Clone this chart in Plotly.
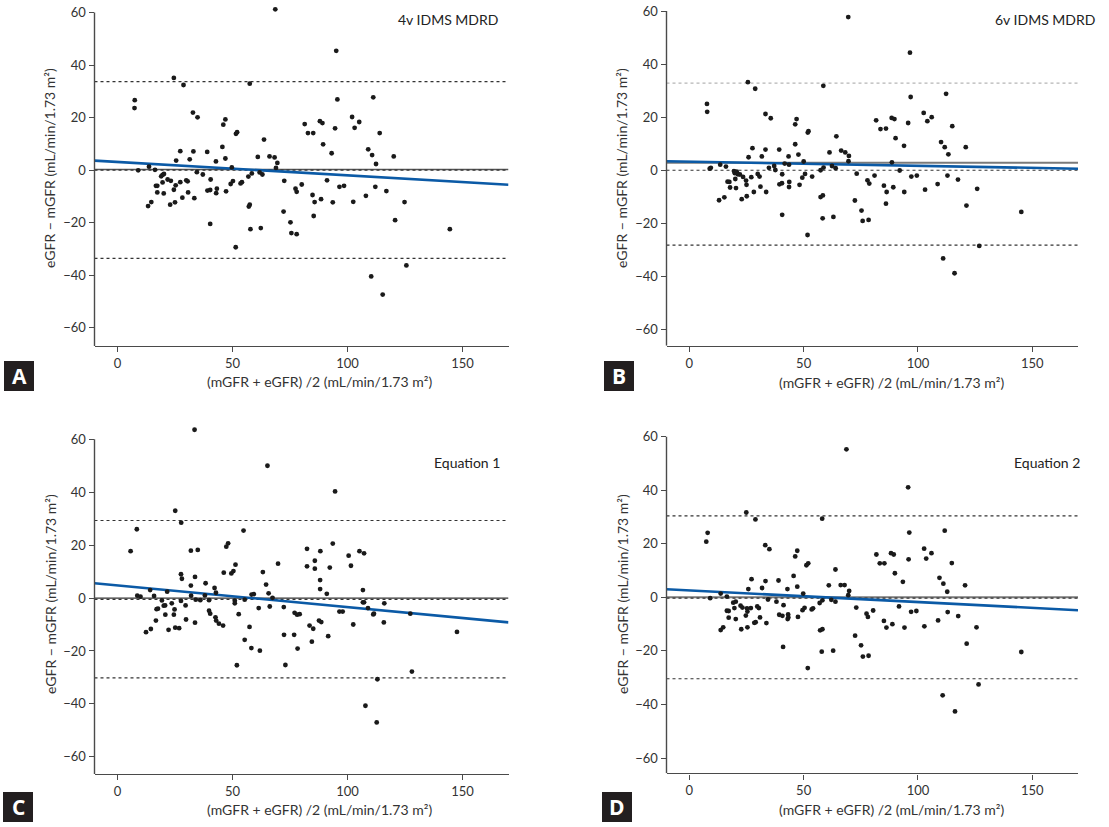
import plotly.graph_objects as go

W, H = 1109, 827

# ---------------- data (mean of mGFR & eGFR, eGFR - mGFR) ----------------
panel_a = [(68.6,61.2),(95.1,45.4),(24.5,35.1),(28.7,32.4),(57.5,32.9),(7.5,26.6),(7.4,23.6),(95.6,26.9),(111.2,27.7),(32.8,21.9),(34.8,20.1),(46.9,19.3),(46.0,17.3),(81.4,17.5),(88.0,18.6),(89.1,17.9),(102.0,20.2),(105.1,18.3),(94.6,15.9),(103.1,16.1),(51.5,13.8),(52.0,14.4),(63.7,11.6),(82.8,14.1),(85.1,14.1),(114.0,14.1),(45.6,8.8),(89.4,9.8),(93.1,6.4),(27.3,7.2),(33.0,7.1),(39.0,6.9),(109.0,7.9),(110.7,5.7),(120.1,5.2),(61.0,5.0),(66.1,5.2),(68.3,4.8),(46.9,4.4),(31.4,4.1),(25.5,3.6),(42.8,3.3),(69.5,2.7),(112.4,2.3),(68.9,0.8),(49.7,1.0),(13.7,1.3),(9.0,-0.1),(16.3,0.1),(34.5,-0.8),(37.1,-1.7),(40.5,-3.6),(58.4,-1.3),(61.8,-0.9),(63.0,-1.7),(56.9,-2.5),(19.6,-1.8),(20.2,-1.5),(19.0,-2.4),(21.8,-3.6),(23.2,-4.1),(19.6,-4.7),(29.9,-3.9),(30.5,-4.3),(27.3,-4.6),(50.2,-4.2),(54.1,-4.6),(53.5,-5.1),(49.2,-5.3),(16.7,-6.0),(17.3,-6.0),(25.3,-5.8),(72.5,-4.1),(91.1,-3.9),(80.1,-5.5),(96.5,-6.4),(98.5,-6.0),(112.1,-6.4),(77.4,-7.1),(77.9,-8.3),(24.5,-7.5),(39.1,-7.8),(40.3,-7.6),(43.2,-7.1),(42.9,-8.8),(47.2,-8.1),(17.3,-8.5),(20.1,-8.9),(30.7,-8.5),(116.9,-8.0),(108.0,-9.8),(84.8,-9.5),(28.2,-10.5),(33.4,-10.7),(88.5,-11.1),(14.7,-12.2),(13.3,-13.7),(25.0,-12.3),(22.9,-13.2),(85.7,-12.2),(93.6,-12.3),(102.5,-12.1),(124.8,-12.2),(57.5,-13.2),(57.1,-13.9),(72.2,-15.8),(85.3,-17.5),(120.7,-19.1),(75.2,-19.9),(40.3,-20.5),(62.3,-22.1),(57.8,-22.5),(144.5,-22.5),(75.6,-24.0),(77.9,-24.4),(51.4,-29.4),(125.6,-36.3),(110.3,-40.5),(115.3,-47.4)]

panel_b = [(69.5,57.7),(96.5,44.3),(25.6,33.2),(28.8,30.7),(58.6,31.8),(7.7,25.0),(7.8,22.0),(96.8,27.6),(112.3,28.8),(33.3,21.2),(35.6,19.6),(46.9,19.3),(46.3,17.3),(81.7,18.8),(88.5,19.7),(89.7,19.3),(95.7,17.8),(102.5,21.6),(104.1,18.5),(106.0,20.0),(83.6,15.5),(86.0,15.7),(115.0,16.6),(51.8,14.2),(52.1,14.7),(64.3,12.8),(90.2,12.1),(110.1,10.6),(46.3,9.8),(93.9,9.2),(111.7,8.7),(120.9,8.7),(113.3,6.0),(33.3,7.8),(39.3,7.8),(27.6,8.3),(25.9,4.9),(31.7,5.2),(61.3,6.7),(66.4,7.4),(68.2,6.7),(69.8,5.4),(69.6,3.4),(43.4,5.2),(47.7,5.9),(50.0,3.3),(88.6,3.0),(37.1,1.6),(34.8,0.9),(37.6,0.1),(43.6,2.1),(41.7,2.5),(62.4,1.6),(64.0,0.8),(58.7,1.0),(57.4,0.0),(9.4,0.9),(8.9,0.6),(13.5,2.1),(16.0,1.4),(92.0,-0.1),(99.5,-2.0),(97.1,-2.4),(112.9,-2.0),(81.0,-2.0),(73.2,-1.3),(19.5,-0.3),(19.9,-1.1),(20.7,-0.5),(21.2,-1.5),(20.1,-3.3),(22.1,-1.6),(23.5,-2.5),(29.9,-1.4),(30.7,-2.4),(27.1,-2.6),(24.8,-3.9),(25.0,-5.5),(16.7,-4.3),(17.5,-4.4),(17.8,-6.5),(20.4,-6.7),(31.1,-6.2),(33.6,-8.2),(28.2,-8.2),(25.1,-9.8),(22.9,-10.9),(15.3,-10.2),(13.0,-11.3),(40.6,-1.5),(40.5,-4.9),(39.4,-5.3),(43.7,-4.4),(43.6,-6.3),(50.6,-1.4),(49.4,-2.8),(48.2,-5.5),(53.7,-2.4),(85.1,-5.8),(86.3,-8.2),(89.2,-6.4),(77.9,-3.8),(78.7,-5.0),(108.6,-5.2),(103.1,-7.3),(117.5,-3.5),(94.0,-8.2),(125.9,-7.0),(57.4,-10.1),(58.4,-9.5),(86.0,-12.6),(72.4,-11.4),(121.2,-13.3),(75.3,-15.2),(75.8,-19.1),(78.4,-18.7),(145.2,-15.7),(40.6,-16.8),(58.3,-18.1),(63.0,-17.6),(51.7,-24.4),(126.8,-28.5),(111.0,-33.2),(116.0,-38.8)]

panel_c = [(33.5,63.6),(65.2,50.0),(94.6,40.3),(25.1,33.0),(27.7,28.5),(8.4,26.0),(5.7,17.7),(54.8,25.5),(31.9,17.9),(34.9,18.2),(48.1,20.7),(47.3,19.4),(82.4,18.6),(88.2,17.7),(93.6,20.6),(100.5,16.0),(105.2,17.7),(107.2,16.9),(82.4,12.0),(85.8,11.1),(85.8,14.1),(92.3,11.5),(101.5,12.2),(51.3,12.6),(50.4,10.2),(49.5,9.3),(46.2,9.6),(69.8,13.0),(63.2,9.8),(27.6,9.0),(28.0,7.3),(33.7,8.0),(38.3,5.6),(31.9,4.7),(42.2,3.8),(42.8,2.0),(14.2,3.0),(21.6,2.4),(8.6,0.9),(10.0,0.5),(15.9,0.8),(32.0,0.9),(38.0,1.0),(88.1,6.8),(88.1,3.4),(91.0,1.6),(64.6,5.1),(65.7,1.8),(67.4,0.1),(58.3,1.3),(59.3,1.5),(106.7,3.0),(106.7,-1.6),(107.2,-1.6),(108.9,-3.8),(116.0,-2.0),(111.2,-6.2),(111.5,-5.9),(127.3,-5.9),(96.5,-5.1),(97.9,-5.1),(102.5,-10.0),(115.8,-9.2),(19.3,-0.9),(20.7,-2.8),(20.1,-2.9),(17.0,-4.2),(17.6,-4.0),(16.7,-8.5),(14.5,-11.7),(12.4,-12.9),(22.2,-12.0),(23.6,-2.0),(24.8,-4.3),(24.5,-6.3),(20.8,-6.3),(25.1,-11.2),(26.8,-11.4),(27.6,-1.1),(29.6,-2.8),(29.8,-8.1),(33.7,-9.3),(34.0,-0.6),(36.0,-0.8),(39.8,-0.8),(39.8,-4.8),(40.3,-5.9),(42.6,-7.3),(42.9,-8.5),(44.1,-9.7),(45.9,-10.4),(51.0,-1.0),(51.0,-2.0),(55.3,-0.6),(52.7,-6.1),(51.9,-25.4),(55.3,-15.8),(57.4,-10.9),(58.2,-18.9),(61.9,-19.9),(61.4,-3.8),(66.2,-3.2),(72.3,-3.4),(72.4,-13.9),(73.0,-25.3),(77.0,-5.6),(78.1,-6.3),(79.2,-6.1),(78.3,-19.1),(76.8,-13.9),(83.5,-10.4),(85.1,-11.6),(84.5,-16.5),(87.6,-8.5),(88.6,-9.1),(91.6,-14.4),(113.0,-30.7),(128.0,-27.8),(107.8,-40.7),(112.7,-47.0),(147.6,-12.8)]

panel_d = [(68.7,55.3),(95.7,41.1),(24.9,31.7),(28.9,29.1),(58.1,29.4),(8.0,24.1),(7.4,20.8),(96.2,24.2),(111.7,24.9),(33.2,19.5),(35.0,18.0),(47.2,17.4),(46.3,15.3),(81.8,16.0),(83.3,12.7),(85.3,12.7),(88.2,16.5),(89.4,16.0),(95.9,14.2),(102.7,18.2),(103.6,14.5),(105.9,16.5),(114.8,12.8),(51.2,12.0),(52.0,12.7),(63.9,10.4),(89.9,9.0),(93.4,5.8),(109.4,7.3),(111.1,5.1),(112.8,2.1),(120.6,4.5),(45.6,8.0),(39.0,6.3),(33.3,6.1),(27.2,6.8),(25.8,3.1),(31.8,3.5),(42.9,3.1),(47.2,4.0),(49.8,1.4),(61.0,4.5),(66.2,4.6),(67.9,4.6),(69.9,2.4),(69.5,0.8),(13.7,1.4),(16.4,0.3),(9.1,-0.3),(34.4,-0.8),(38.1,-1.6),(41.2,-2.9),(58.2,-1.1),(57.0,-2.1),(62.1,-0.9),(63.9,-1.6),(73.0,-3.8),(80.4,-4.9),(91.7,-3.4),(97.0,-5.4),(99.3,-5.1),(113.0,-5.5),(117.6,-7.0),(77.5,-6.1),(78.1,-7.3),(85.1,-8.8),(86.2,-11.3),(88.8,-10.0),(94.1,-11.3),(102.8,-10.8),(108.8,-8.6),(125.6,-11.2),(19.2,-2.0),(20.3,-1.6),(19.7,-4.0),(22.4,-3.1),(23.2,-3.8),(25.2,-4.1),(26.9,-4.0),(29.7,-3.4),(30.4,-4.0),(16.4,-5.0),(17.2,-5.1),(17.2,-7.6),(20.3,-8.1),(24.7,-6.8),(25.4,-5.3),(30.9,-7.5),(28.4,-9.5),(29.0,-9.3),(33.7,-9.6),(22.7,-11.9),(25.4,-11.2),(13.7,-12.2),(14.8,-11.2),(39.3,-6.5),(40.7,-6.9),(43.2,-6.4),(43.3,-7.5),(43.0,-8.1),(47.5,-7.3),(49.5,-4.8),(50.4,-3.9),(53.5,-4.5),(54.1,-4.1),(57.2,-12.3),(58.2,-11.9),(41.0,-18.5),(57.9,-20.3),(62.9,-19.9),(51.8,-26.4),(72.5,-14.3),(75.1,-17.9),(75.9,-22.1),(78.4,-21.8),(121.3,-17.3),(145.2,-20.4),(126.5,-32.5),(110.8,-36.6),(116.2,-42.6)]

panel_titles = ["4v IDMS MDRD", "6v IDMS MDRD", "Equation 1", "Equation 2"]
panel_letters = ["A", "B", "C", "D"]
# Bland-Altman statistics per panel: mean bias (solid), reference dotted line, upper / lower limits of agreement
mean_bias = [0.2, 2.8, 0.0, 0.0]
zero_ref = [0.0, 0.0, -0.5, -0.3]
upper_loa = [33.7, 32.8, 29.3, 30.4]
lower_loa = [-33.6, -28.2, -30.2, -30.4]
# regression of difference on mean: intercept, slope
reg_intercept = [3.09, 3.24, 4.78, 2.57]
reg_slope = [-0.0511, -0.0156, -0.0822, -0.0433]

x_ticks = [0, 50, 100, 150]
y_ticks = [-60, -40, -20, 0, 20, 40, 60]
x_title = "(mGFR + eGFR) /2 (mL/min/1.73 m²)"
y_title = "eGFR − mGFR (mL/min/1.73 m²)"

# ---------------- layout geometry (pixels) ----------------
X_RANGE = [-10, 170]
Y_AXIS_TOP = 60      # the drawn y axis line stops at 60
Y_EXTRA = 6          # plotting area extends a bit higher so outliers above 60 show
geom = [
    dict(x0=94.5, x1=508.5, ytop=12.5, ybot=346.0, ymin=-67.0),
    dict(x0=666.5, x1=1078.0, ytop=11.0, ybot=345.7, ymin=-66.1),
    dict(x0=94.5, x1=508.5, ytop=439.3, ybot=774.0, ymin=-66.5),
    dict(x0=666.5, x1=1078.0, ytop=436.7, ybot=773.3, ymin=-65.7),
]
loa_colors = [["#333333", "#333333"], ["#b5b5b5", "#333333"], ["#333333", "#333333"], ["#333333", "#333333"]]
mean_colors = ["#555555", "#7a7a7a", "#333333", "#7a7a7a"]
mean_widths = [1.4, 2.0, 1.2, 2.0]
title_pos = [(500, 19), (1097, 19), (502, 462), (1082, 462)]
xtitle_pos = [(319, 381), (891, 382), (319, 809), (891, 809)]
ytitle_pos = [(50, 168), (622, 168), (50, 594), (622, 594)]
letter_box = [(4, 361), (604, 361), (3, 792), (602, 792)]

FONT = "Lato, 'Open Sans', sans-serif"
AX_COL = "#4a4a4a"

fig = go.Figure()
panels = [panel_a, panel_b, panel_c, panel_d]
shapes = []
annotations = []
for i, pts in enumerate(panels):
    n = "" if i == 0 else str(i + 1)
    xa, ya = "x" + n, "y" + n
    g = geom[i]
    xs = [p[0] for p in pts]
    ys = [p[1] for p in pts]

    rx = X_RANGE
    ry = [reg_intercept[i] + reg_slope[i] * v for v in rx]

    for val, col, dash, wd in [
        (mean_bias[i], mean_colors[i], "solid", mean_widths[i]),
        (zero_ref[i], "#333333", "dot", 1.2),
        (upper_loa[i], loa_colors[i][0], "dot", 1.2),
        (lower_loa[i], loa_colors[i][1], "dot", 1.2),
    ]:
        fig.add_trace(go.Scatter(x=X_RANGE, y=[val, val], mode="lines", xaxis=xa, yaxis=ya,
                                 line=dict(color=col, width=wd, dash=dash), hoverinfo="skip",
                                 showlegend=False))
    fig.add_trace(go.Scatter(x=rx, y=ry, mode="lines", xaxis=xa, yaxis=ya,
                             line=dict(color="#0b5aa6", width=2.6), hoverinfo="skip", showlegend=False))
    fig.add_trace(go.Scatter(x=xs, y=ys, mode="markers", xaxis=xa, yaxis=ya,
                             marker=dict(color="#1a1a1a", size=4.8), showlegend=False))

    scale = (g["ybot"] - g["ytop"]) / (Y_AXIS_TOP - g["ymin"])
    top_px = max(0.0, g["ytop"] - Y_EXTRA * scale)
    range_top = Y_AXIS_TOP + (g["ytop"] - top_px) / scale
    dom_x = [g["x0"] / W, g["x1"] / W]
    dom_y = [1 - g["ybot"] / H, min(1.0, 1 - top_px / H)]
    axis_common = dict(showgrid=False, zeroline=False, linecolor=AX_COL, linewidth=1.4,
                       ticks="outside", ticklen=5, tickwidth=1.2, tickcolor=AX_COL,
                       tickfont=dict(family=FONT, size=13, color="#333333"))
    fig.layout["xaxis" + n] = dict(domain=dom_x, range=X_RANGE, tickvals=x_ticks, anchor=ya,
                                   showline=True, **axis_common)
    fig.layout["yaxis" + n] = dict(domain=dom_y, range=[g["ymin"], range_top], tickvals=y_ticks,
                                   anchor=xa, showline=False, **axis_common)
    # y axis line only up to 60
    shapes.append(dict(type="line", xref=xa + " domain", yref=ya, x0=0, x1=0,
                       y0=g["ymin"], y1=Y_AXIS_TOP, line=dict(color=AX_COL, width=1.4)))

    tx, ty = title_pos[i]
    annotations.append(dict(text=panel_titles[i], x=tx / W, y=1 - ty / H, xref="paper", yref="paper",
                            xanchor="right", yanchor="middle", showarrow=False,
                            font=dict(family=FONT, size=14, color="#222222")))
    tx, ty = xtitle_pos[i]
    annotations.append(dict(text=x_title, x=tx / W, y=1 - ty / H, xref="paper", yref="paper",
                            xanchor="center", yanchor="middle", showarrow=False,
                            font=dict(family=FONT, size=14, color="#333333")))
    tx, ty = ytitle_pos[i]
    annotations.append(dict(text=y_title, x=tx / W, y=1 - ty / H, xref="paper", yref="paper",
                            xanchor="center", yanchor="middle", showarrow=False, textangle=-90,
                            font=dict(family=FONT, size=14, color="#333333")))
    bx, by = letter_box[i]
    shapes.append(dict(type="rect", xref="paper", yref="paper", x0=bx / W, x1=(bx + 30) / W,
                       y0=1 - (by + 30) / H, y1=1 - by / H, fillcolor="#231f20", line=dict(width=0)))
    annotations.append(dict(text="<b>" + panel_letters[i] + "</b>", x=(bx + 15) / W, y=1 - (by + 15) / H,
                            xref="paper", yref="paper", xanchor="center", yanchor="middle", showarrow=False,
                            font=dict(family="'Open Sans', sans-serif", size=21, color="white")))

fig.update_layout(width=W, height=H, margin=dict(l=0, r=0, t=0, b=0),
                  paper_bgcolor="white", plot_bgcolor="white",
                  shapes=shapes, annotations=annotations, showlegend=False)
fig.write_html("out.html", config={"displayModeBar": False},
               post_script="document.body.style.margin='0';document.body.style.overflow='hidden';")
